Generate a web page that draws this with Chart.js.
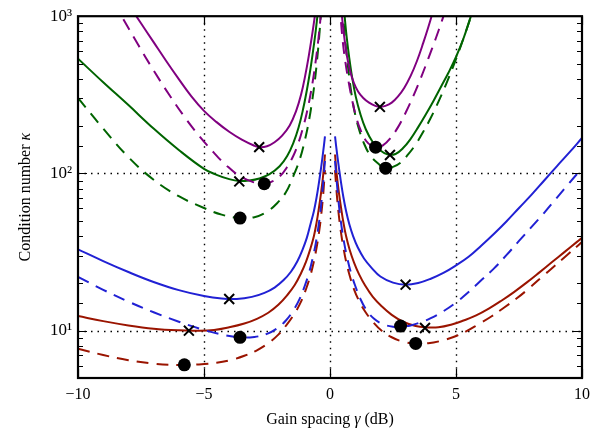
<!DOCTYPE html>
<html>
<head>
<meta charset="utf-8">
<script src="https://cdn.jsdelivr.net/npm/chart.js@4.4.0/dist/chart.umd.min.js"></script>
<style>
  body { margin: 0; background: #fff; }
  #wrap { width: 601px; height: 437px; }
</style>
</head>
<body>
<div id="wrap"><canvas id="kappa-chart" width="601" height="437"></canvas></div>
<script>
// gain spacing gamma (dB) and condition number kappa, left / right of the gap at 0
const gPurpleL = [-8.0, -7.5, -7.0, -6.5, -6.0, -5.5, -5.0, -4.5, -4.0, -3.5, -3.0, -2.8, -2.5, -2.2, -1.9, -1.6, -1.35, -1.15, -0.98, -0.84, -0.72, -0.62, -0.54];
const kPurpleL = [1189, 902, 684, 519, 398, 309, 250, 212, 184, 164, 150, 147, 149, 158, 174, 202, 248, 316, 422, 562, 741, 955, 1202];
const gPurpleR = [0.44, 0.5, 0.58, 0.68, 0.8, 0.95, 1.12, 1.32, 1.55, 1.8, 1.98, 2.2, 2.45, 2.7, 2.95, 3.2, 3.45, 3.7, 3.9, 4.05, 4.2];
const kPurpleR = [1148, 912, 708, 550, 447, 376, 331, 302, 282, 269, 265, 269, 282, 309, 351, 417, 519, 676, 851, 1023, 1230];

const gPurpleDL = [-8.6, -8.2, -7.6, -7.0, -6.4, -5.8, -5.2, -4.6, -4.1, -3.6, -3.1, -2.7, -2.35, -2.0, -1.7, -1.45, -1.25, -1.08, -0.93, -0.8, -0.68, -0.58, -0.5, -0.43, -0.37, -0.32];
const kPurpleDL = [1230, 955, 653, 452, 320, 232, 174, 135, 112, 96.6, 88.7, 86.1, 88.1, 95.5, 110, 130, 157, 193, 240, 302, 389, 501, 631, 794, 1000, 1230];
const gPurpleDR = [0.38, 0.43, 0.5, 0.6, 0.72, 0.86, 1.02, 1.2, 1.42, 1.65, 1.85, 2.1, 2.4, 2.7, 3.0, 3.3, 3.6, 3.9, 4.2, 4.45, 4.65];
const kPurpleDR = [1230, 955, 708, 525, 398, 302, 234, 191, 162, 150, 147, 151, 168, 197, 243, 309, 403, 537, 724, 944, 1175];

const gGreenL = [-10, -9, -8, -7, -6, -5, -4.5, -4, -3.6, -3.2, -2.8, -2.4, -2.0, -1.7, -1.45, -1.25, -1.08, -0.93, -0.8, -0.68, -0.58, -0.5, -0.43];
const kGreenL = [537, 380, 272, 193, 141, 107, 98, 92, 89.5, 90.2, 92.9, 98.9, 111, 129, 157, 195, 251, 331, 437, 589, 776, 1000, 1259];
const gGreenR = [0.52, 0.58, 0.66, 0.76, 0.88, 1.02, 1.2, 1.42, 1.7, 2.0, 2.3, 2.6, 2.9, 3.2, 3.5, 3.8, 4.1, 4.4, 4.7, 5.0, 5.3, 5.55, 5.75];
const kGreenR = [1259, 1000, 741, 550, 407, 309, 240, 191, 158, 140, 132, 133, 145, 166, 197, 237, 288, 355, 437, 550, 724, 955, 1202];

const gGreenDL = [-10, -9, -8, -7, -6, -5, -4.3, -3.6, -3.0, -2.5, -2.1, -1.75, -1.45, -1.2, -1.0, -0.83, -0.7, -0.6, -0.52, -0.45, -0.39, -0.34];
const kGreenDL = [302, 193, 127, 91.2, 71.6, 60.3, 54.7, 52.0, 52.7, 57.1, 64.6, 75.9, 96.6, 123, 162, 219, 295, 389, 513, 676, 891, 1148];
const gGreenDR = [0.48, 0.54, 0.62, 0.72, 0.84, 0.98, 1.15, 1.35, 1.6, 1.9, 2.2, 2.5, 2.8, 3.1, 3.4, 3.7, 4.0, 4.3, 4.6, 4.9, 5.2, 5.45, 5.7];
const kGreenDR = [1202, 912, 661, 468, 331, 245, 191, 155, 130, 116, 108, 110, 117, 132, 153, 184, 226, 285, 367, 484, 653, 851, 1122];

const gBlueL = [-10, -9, -8, -7, -6, -5, -4.3, -3.7, -3.1, -2.6, -2.2, -1.85, -1.55, -1.3, -1.1, -0.92, -0.77, -0.64, -0.53, -0.44, -0.36, -0.3, -0.24, -0.2];
const kBlueL = [32.9, 27.7, 23.6, 20.4, 18.1, 16.6, 16.0, 15.9, 16.4, 17.4, 18.8, 20.9, 23.7, 27.5, 32.4, 38.9, 47.9, 57.5, 70.8, 87.1, 107, 126, 151, 172];
const gBlueR = [0.2, 0.24, 0.3, 0.36, 0.44, 0.53, 0.64, 0.77, 0.92, 1.1, 1.35, 1.65, 2.0, 2.5, 3.0, 3.5, 4.0, 4.5, 5.0, 5.5, 6.0, 6.5, 7.0, 7.5, 8.0, 8.5, 9.0, 9.5, 10.0];
const kBlueR = [172, 151, 126, 107, 87.1, 70.8, 57.5, 47.3, 39.8, 33.9, 28.8, 25.1, 22.1, 20.2, 19.6, 20.1, 21.4, 23.3, 26.0, 29.5, 34.7, 41.2, 49.5, 60.3, 73.3, 90.2, 111, 136, 168];

const gBlueDL = [-10, -9, -8, -7, -6, -5, -4.3, -3.6, -3.0, -2.5, -2.1, -1.75, -1.45, -1.2, -1.0, -0.83, -0.68, -0.56, -0.46, -0.38, -0.31, -0.25, -0.2];
const kBlueDL = [22.0, 18.2, 15.3, 13.1, 11.4, 10.1, 9.46, 9.08, 9.12, 9.55, 10.35, 11.6, 13.5, 16.0, 19.3, 23.4, 29.2, 36.3, 45.7, 57.5, 74.1, 95.5, 120];
const gBlueDR = [0.2, 0.25, 0.31, 0.38, 0.46, 0.56, 0.68, 0.83, 1.0, 1.2, 1.45, 1.75, 2.1, 2.5, 2.8, 3.2, 3.6, 4.0, 4.5, 5.0, 5.5, 6.0, 6.5, 7.0, 7.5, 8.0, 8.5, 9.0, 9.5, 10.0];
const kBlueDR = [120, 95.5, 74.1, 57.5, 45.7, 36.3, 29.2, 23.4, 19.3, 16.0, 13.5, 11.9, 11.0, 10.6, 10.6, 10.8, 11.3, 12.0, 13.3, 15.1, 17.6, 20.9, 24.8, 30.2, 37.2, 45.7, 56.2, 70.0, 87.1, 108];

const gRedL = [-10, -9, -8, -7, -6, -5.3, -4.6, -4.0, -3.4, -2.9, -2.45, -2.05, -1.7, -1.4, -1.15, -0.95, -0.78, -0.64, -0.53, -0.44, -0.36, -0.29, -0.24, -0.2];
const kRedL = [12.4, 11.5, 10.8, 10.3, 10.05, 10.0, 10.1, 10.5, 11.1, 11.9, 13.0, 14.6, 16.8, 19.5, 23.2, 27.5, 33.1, 39.8, 49.0, 60.3, 74.1, 91.2, 110, 132];
const gRedR = [0.2, 0.24, 0.29, 0.36, 0.44, 0.53, 0.64, 0.78, 0.95, 1.15, 1.4, 1.7, 2.05, 2.45, 2.9, 3.4, 3.8, 4.3, 4.8, 5.3, 5.8, 6.3, 6.8, 7.3, 7.8, 8.3, 8.8, 9.3, 9.8, 10];
const kRedR = [132, 110, 91.2, 74.1, 60.3, 49.0, 39.8, 32.7, 27.2, 22.9, 19.3, 16.4, 14.3, 12.6, 11.4, 10.7, 10.5, 10.5, 10.9, 11.6, 12.5, 13.8, 15.5, 17.6, 20.2, 23.4, 27.2, 31.6, 36.7, 38.9];

const gRedDL = [-10, -9, -8, -7, -6, -5.2, -4.5, -3.9, -3.4, -2.9, -2.45, -2.05, -1.7, -1.4, -1.15, -0.95, -0.78, -0.64, -0.53, -0.44, -0.36, -0.29, -0.24, -0.2];
const kRedDL = [7.67, 7.0, 6.49, 6.17, 6.05, 6.1, 6.25, 6.53, 6.92, 7.5, 8.32, 9.44, 11.0, 12.9, 15.3, 18.4, 22.4, 27.5, 33.9, 41.7, 52.5, 67.6, 85.1, 105];
const gRedDR = [0.2, 0.24, 0.29, 0.36, 0.44, 0.53, 0.64, 0.78, 0.95, 1.15, 1.4, 1.7, 2.05, 2.45, 2.9, 3.4, 3.9, 4.4, 4.9, 5.4, 5.9, 6.4, 6.9, 7.4, 7.9, 8.4, 8.9, 9.4, 9.9, 10];
const kRedDR = [105, 85.1, 67.6, 52.5, 41.7, 33.9, 27.5, 22.4, 18.4, 15.5, 13.2, 11.4, 10.0, 9.08, 8.51, 8.28, 8.32, 8.61, 9.12, 9.89, 11.0, 12.3, 14.0, 16.0, 18.6, 21.9, 25.7, 30.2, 35.5, 36.7];

// minima: crosses on the solid curves, dots on the dashed ones
const crossG = [-2.81, 1.98, -3.6, 2.38, -4.0, 3.0, -5.6, 3.77];
const crossK = [147, 265, 89, 131, 15.9, 19.6, 10.0, 10.4];
const dotG = [-2.61, 1.81, -3.57, 2.21, -3.57, 2.8, -5.78, 3.4];
const dotK = [86, 147, 52, 108, 9.07, 10.7, 6.06, 8.3];

const xTicks = [-10, -5, 0, 5, 10];
const xGrid = [-5, 0, 5];
const yGrid = [10, 100];

// axis titles as [text, italic] pieces
const xTitle = [['Gain spacing ', false], ['\u03b3', true], [' (dB)', false]];
const yTitle = [['Condition number ', false], ['\u03ba', true]];

const PURPLE = '#800080';
const GREEN = '#006400';
const BLUE = '#2121d4';
const RED = '#9a1400';
const SERIF = "'Liberation Serif', 'DejaVu Serif', serif";

function branch(gl, kl, gr, kr) {
    const pts = gl.map((g, i) => ({ x: g, y: kl[i] }));
    pts.push({ x: 0, y: null });
    gr.forEach((g, i) => pts.push({ x: g, y: kr[i] }));
    return pts;
}

function curve(pts, color, dashed) {
    return {
        data: pts,
        showLine: true,
        borderColor: color,
        borderWidth: 2,
        borderDash: dashed ? [12, 8] : [],
        pointRadius: 0,
        spanGaps: false,
        tension: 0.4,
        capBezierPoints: false
    };
}

const isDecade = v => Math.abs(Math.log10(v) - Math.round(Math.log10(v))) < 1e-9;
const SUP = { 0: '\u2070', 1: '\u00b9', 2: '\u00b2', 3: '\u00b3' };

// draws a title centred on (cx, cy), mixing upright and italic pieces
function drawTitle(ctx, pieces, cx, cy, angle) {
    const fontFor = it => (it ? 'italic ' : '') + '16px ' + SERIF;
    let total = 0;
    pieces.forEach(([t, it]) => { ctx.font = fontFor(it); total += ctx.measureText(t).width; });
    ctx.save();
    ctx.translate(cx, cy);
    ctx.rotate(angle);
    ctx.fillStyle = '#000';
    ctx.textBaseline = 'middle';
    ctx.textAlign = 'left';
    let x = -total / 2;
    pieces.forEach(([t, it]) => {
        ctx.font = fontFor(it);
        ctx.fillText(t, x, 0);
        x += ctx.measureText(t).width;
    });
    ctx.restore();
}

const framePlugin = {
    id: 'frame',
    beforeDatasetsDraw(chart) {
        const { ctx, chartArea: a, scales: { x, y } } = chart;
        ctx.save();
        ctx.strokeStyle = '#000';
        ctx.lineWidth = 1.4;
        ctx.setLineDash([1.5, 5]);
        ctx.beginPath();
        xGrid.forEach(v => {
            const px = Math.round(x.getPixelForValue(v)) + 0.5;
            ctx.moveTo(px, a.top);
            ctx.lineTo(px, a.bottom);
        });
        yGrid.forEach(v => {
            const py = Math.round(y.getPixelForValue(v)) + 0.5;
            ctx.moveTo(a.left, py);
            ctx.lineTo(a.right, py);
        });
        ctx.stroke();
        ctx.restore();
    },
    afterDraw(chart) {
        const { ctx, chartArea: a, scales: { x, y } } = chart;
        ctx.save();
        ctx.strokeStyle = '#000';
        ctx.lineWidth = 1.2;
        ctx.beginPath();
        y.ticks.forEach(t => {
            const py = Math.round(y.getPixelForValue(t.value)) + 0.5;
            const len = isDecade(t.value) ? 9 : 5;
            ctx.moveTo(a.left, py);
            ctx.lineTo(a.left + len, py);
            ctx.moveTo(a.right, py);
            ctx.lineTo(a.right - len, py);
        });
        xTicks.forEach(v => {
            const px = Math.round(x.getPixelForValue(v)) + 0.5;
            ctx.moveTo(px, a.bottom);
            ctx.lineTo(px, a.bottom - 9);
            ctx.moveTo(px, a.top);
            ctx.lineTo(px, a.top + 9);
        });
        ctx.stroke();
        ctx.lineWidth = 2.2;
        ctx.strokeRect(a.left, a.top, a.right - a.left, a.bottom - a.top);
        ctx.restore();

        drawTitle(ctx, xTitle, (a.left + a.right) / 2, a.bottom + 42, 0);
        drawTitle(ctx, yTitle, 26, (a.top + a.bottom) / 2, -Math.PI / 2);
    }
};

Chart.defaults.font.family = SERIF;
Chart.defaults.color = '#000';

new Chart(document.getElementById('kappa-chart'), {
    type: 'scatter',
    data: {
        datasets: [
            {
                data: crossG.map((g, i) => ({ x: g, y: crossK[i] })),
                pointStyle: 'crossRot',
                pointRadius: 7,
                pointBorderWidth: 2,
                borderColor: '#000',
                backgroundColor: '#000'
            },
            {
                data: dotG.map((g, i) => ({ x: g, y: dotK[i] })),
                pointStyle: 'circle',
                pointRadius: 6.5,
                pointBorderWidth: 0,
                borderColor: '#000',
                backgroundColor: '#000'
            },
            curve(branch(gPurpleL, kPurpleL, gPurpleR, kPurpleR), PURPLE, false),
            curve(branch(gPurpleDL, kPurpleDL, gPurpleDR, kPurpleDR), PURPLE, true),
            curve(branch(gGreenL, kGreenL, gGreenR, kGreenR), GREEN, false),
            curve(branch(gGreenDL, kGreenDL, gGreenDR, kGreenDR), GREEN, true),
            curve(branch(gBlueL, kBlueL, gBlueR, kBlueR), BLUE, false),
            curve(branch(gBlueDL, kBlueDL, gBlueDR, kBlueDR), BLUE, true),
            curve(branch(gRedL, kRedL, gRedR, kRedR), RED, false),
            curve(branch(gRedDL, kRedDL, gRedDR, kRedDR), RED, true)
        ]
    },
    options: {
        responsive: false,
        animation: false,
        devicePixelRatio: 1,
        layout: { padding: { top: 14, right: 19, left: 0, bottom: 0 } },
        plugins: { legend: { display: false }, tooltip: { enabled: false } },
        scales: {
            x: {
                type: 'linear',
                min: -10,
                max: 10,
                afterFit: s => { s.height = 59; },
                afterBuildTicks: s => { s.ticks = xTicks.map(v => ({ value: v })); },
                grid: { display: false, drawTicks: false },
                border: { display: false },
                ticks: {
                    padding: 7,
                    font: { size: 16 },
                    callback: v => (v < 0 ? '\u2212' + Math.abs(v) : String(v))
                }
            },
            y: {
                type: 'logarithmic',
                min: 5,
                max: 1000,
                afterFit: s => { s.width = 78; },
                grid: { display: false, drawTicks: false },
                border: { display: false },
                ticks: {
                    padding: 6,
                    autoSkip: false,
                    font: { size: 17 },
                    callback: v => (isDecade(v) ? '10' + SUP[Math.round(Math.log10(v))] : '')
                }
            }
        }
    },
    plugins: [framePlugin]
});
</script>
</body>
</html>
